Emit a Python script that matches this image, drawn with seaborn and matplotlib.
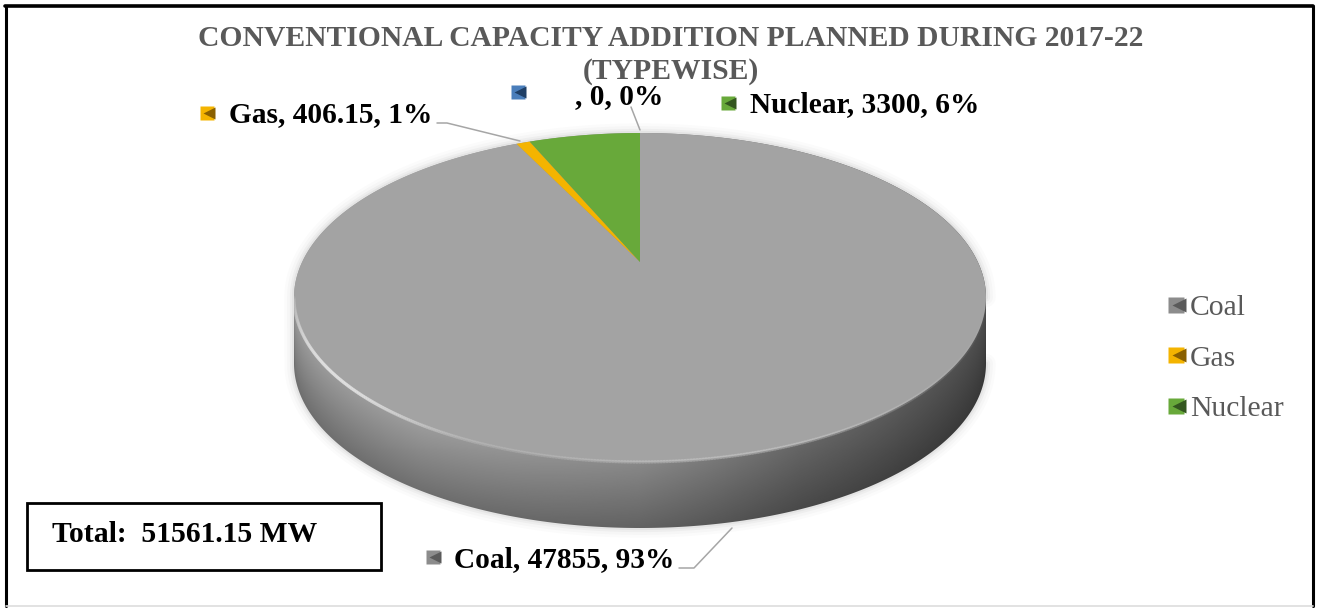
import numpy as np
import matplotlib
matplotlib.use("Agg")
import matplotlib.pyplot as plt
import seaborn as sns
from matplotlib.path import Path
from matplotlib.patches import Rectangle
from matplotlib.transforms import Transform
from matplotlib.lines import Line2D
from matplotlib.collections import LineCollection
from matplotlib.legend_handler import HandlerBase

# ---- data ----
categories = ["Coal", "Gas", "Nuclear", ""]
values = [47855, 406.15, 3300, 0]
percent_labels = [93, 1, 6, 0]
colors = ["#a3a3a3", "#f4b400", "#68a93a", "#4a7ebb"]
swatch_shades = ["#5a5a5a", "#8a6000", "#33561f", "#1f3f66"]
legend_categories = ["Coal", "Gas", "Nuclear"]
title_text = "CONVENTIONAL CAPACITY ADDITION PLANNED DURING 2017-22\n(TYPEWISE)"
total_text = "Total:  51561.15 MW"

# ---- layout (pixels of the 1317x609 canvas) ----
W, H = 1317, 609
APEX = (640, 262)
TOP_Y, BOT_Y = 133, 462
RX = 346
DEPTH = 66
label_pos = {"Coal": (454, 560), "Gas": (229, 115), "Nuclear": (750, 105), "": (575, 97)}
swatch_pos = {"Coal": (433, 557), "Gas": (207, 113), "Nuclear": (728, 103), "": (518, 92)}

sns.set_theme(style="white")
plt.rcParams["font.family"] = ["Liberation Serif", "DejaVu Serif"]

up, down = APEX[1] - TOP_Y, BOT_Y - APEX[1]
c = (down - up) / (down + up)
a = up * (1 + c)
k = RX * np.sqrt(1 - c ** 2)


class Perspective(Transform):
    """Tilts the flat pie circle into the slanted view of the chart."""
    input_dims = output_dims = 2
    is_affine = False
    has_inverse = False

    def transform_non_affine(self, xy):
        xy = np.asarray(xy, float)
        w = 1 + c * xy[:, 1]
        return np.column_stack([APEX[0] + k * xy[:, 0] / w, APEX[1] - a * xy[:, 1] / w])

    def transform_path_non_affine(self, path):
        flat = Path(path.vertices * 2000, path.codes).to_polygons(closed_only=False)[0] / 2000
        return Path(self.transform_non_affine(flat))


fig = plt.figure(figsize=(W / 100, H / 100), dpi=100, facecolor="white")
ax = fig.add_axes([0, 0, 1, 1])

wedges, _ = ax.pie(values, colors=colors, startangle=90, counterclock=False,
                   wedgeprops={"linewidth": 0})
persp = Perspective()
for w_ in wedges:
    w_.set_transform(persp + ax.transData)
    w_.set_zorder(4)
    w_.set_clip_on(False)

ax.set_aspect("auto")
ax.set_xlim(0, W)
ax.set_ylim(H, 0)
ax.set_axis_off()

# ellipse outline of the top face
cy = (TOP_Y + BOT_Y) / 2
ry = (BOT_Y - TOP_Y) / 2
t = np.linspace(0, 2 * np.pi, 721)
ex = APEX[0] + RX * np.cos(t)
ey = cy - ry * np.sin(t)

# side wall: shaded image clipped to the extruded outline
hull = np.column_stack([ex, ey + np.where(np.sin(t) < 0, DEPTH, 0)])
x0, x1 = APEX[0] - RX, APEX[0] + RX
y0, y1 = TOP_Y, BOT_Y + DEPTH
xx, yy = np.meshgrid(np.linspace(x0, x1, 700), np.linspace(y0, y1, 400))
base = np.interp(xx, [x0, 420, 640, 800, x1], [0.50, 0.50, 0.44, 0.33, 0.25])
rim = cy + ry * np.sqrt(np.clip(1 - ((xx - APEX[0]) / RX) ** 2, 0, 1))
frac = np.clip((yy - rim) / DEPTH, 0, 1)
shade = base * (1.22 - 0.35 * frac)

# soft shadow round the wall
for lw, al in zip([14, 10, 6, 3], [0.015, 0.02, 0.03, 0.04]):
    ax.plot(hull[:, 0], hull[:, 1], color="black", lw=lw, alpha=al, zorder=1,
            solid_joinstyle="round")

im = ax.imshow(shade, extent=(x0, x1, y1, y0), cmap="gray", vmin=0, vmax=1,
               aspect="auto", zorder=2, interpolation="bilinear")
clip_poly = plt.Polygon(hull, closed=True, transform=ax.transData)
im.set_clip_path(clip_poly)
ax.set_xlim(0, W)
ax.set_ylim(H, 0)

# bevel on the rim of the top face
pts = np.column_stack([ex, ey])
segs = np.stack([pts[:-1], pts[1:]], axis=1)
mid = (t[:-1] + t[1:]) / 2
glow = np.where(np.sin(mid) < 0,
                0.6 * np.exp(-((mid - 3.65) / 0.38) ** 2) + 0.2 * np.exp(-((mid - 5.0) / 0.7) ** 2),
                0.0)
rgba = np.zeros((len(segs), 4))
rgba[:, :3] = 0.9
rgba[:, 3] = glow
ax.add_collection(LineCollection(segs, colors=rgba, linewidths=2.4, zorder=5, capstyle="round"))


def swatch(x, y, col, shade_col):
    ax.plot([x], [y], marker="s", ms=10.5, color=col, mec="none", ls="none", zorder=6)
    ax.plot([x + 1.5], [y], marker="<", ms=9, color=shade_col, mec="none", ls="none", zorder=7)


# data labels
for cat, val, pct, col, sh in zip(categories, values, percent_labels, colors, swatch_shades):
    lx, ly = label_pos[cat]
    sx, sy = swatch_pos[cat]
    swatch(sx, sy, col if cat != "Coal" else "#8c8c8c", sh)
    ax.text(lx, ly, f"{cat}, {val:g}, {pct}%", fontsize=21.2, fontweight="bold", color="black",
            ha="left", va="center", zorder=8)

# leader lines
for lx, ly in [([437, 447, 520], [123, 123, 141]),
               ([631, 640], [107, 130]),
               ([679, 694, 732], [568, 568, 528])]:
    ax.plot(lx, ly, color="#a6a6a6", lw=1.1, zorder=6)

# title
ax.text(671, 55, title_text, fontsize=21.3, fontweight="bold", color="#595959", ha="center",
        va="center", linespacing=1.3, zorder=3)

# total box
ax.add_patch(Rectangle((27, 503), 354, 67, fill=False, edgecolor="black", lw=2, zorder=6))
ax.text(52, 534, total_text, fontsize=21.3, fontweight="bold", color="black", ha="left",
        va="center", zorder=7)


# legend with bevelled swatches
class Bevel(HandlerBase):
    def create_artists(self, legend, orig, xd, yd, width, height, fontsize, trans):
        cx, cy_ = width / 2 - xd, height / 2 - yd
        sq = Line2D([cx], [cy_], marker="s", ms=11.5, color=orig.get_color(), mec="none",
                    ls="none", transform=trans)
        tri = Line2D([cx + 2], [cy_], marker="<", ms=10, color=orig.get_markeredgecolor(),
                     mec="none", ls="none", transform=trans)
        return [sq, tri]


handles = []
for cat in legend_categories:
    i = categories.index(cat)
    handles.append(Line2D([], [], color=colors[i] if cat != "Coal" else "#8c8c8c",
                          mec=swatch_shades[i], ls="none", marker="s"))
leg = ax.legend(handles, legend_categories, handler_map={Line2D: Bevel()},
                loc="center left", bbox_to_anchor=(1167 / W, 1 - 358.5 / H),
                bbox_transform=fig.transFigure, frameon=False, fontsize=21.3,
                labelspacing=0.8, handlelength=0.6, handletextpad=0.17, borderpad=0,
                borderaxespad=0, labelcolor="#595959")
leg.set_zorder(8)

# outer frame
ax.plot([6, 6], [6, 606], color="black", lw=2.2, zorder=9)
ax.plot([5, 1313], [6, 6], color="black", lw=2.6, zorder=9)
ax.plot([1313, 1313], [6, 606], color="black", lw=2.2, zorder=9)
ax.plot([6, 1313], [606, 606], color="#dddddd", lw=1.2, zorder=9)

fig.savefig("out.png", dpi=100, facecolor="white")
